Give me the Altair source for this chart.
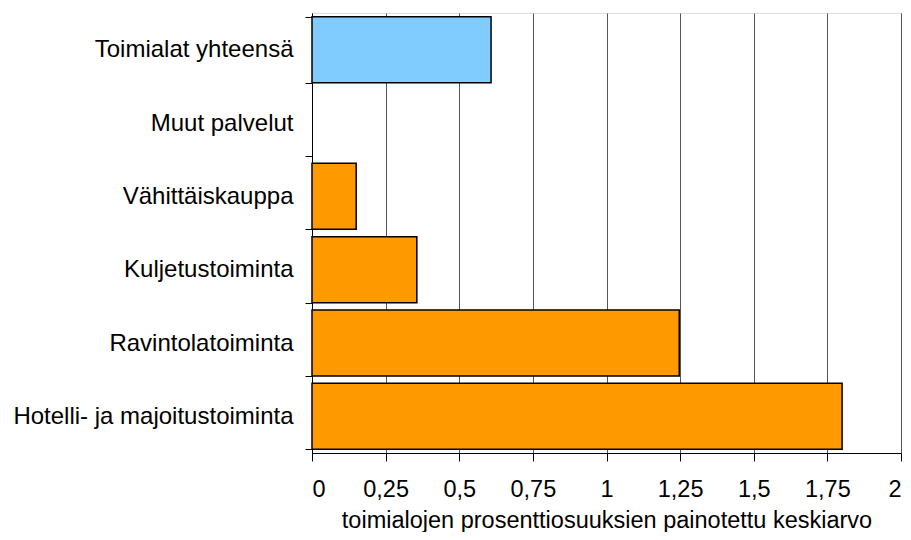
import altair as alt
import pandas as pd

categories = ["Toimialat yhteensä", "Muut palvelut", "Vähittäiskauppa",
              "Kuljetustoiminta", "Ravintolatoiminta", "Hotelli- ja majoitustoiminta"]
values = [0.608, 0.0, 0.15, 0.356, 1.247, 1.80]
groups = ["total", "branch", "branch", "branch", "branch", "branch"]
x_ticks = [0, 0.25, 0.5, 0.75, 1, 1.25, 1.5, 1.75, 2]

df = pd.DataFrame({"toimiala": categories, "arvo": values, "ryhma": groups})
df = df[df["arvo"] > 0]

FONT = "Liberation Sans"

chart = alt.Chart(df).mark_bar(stroke="black", strokeWidth=1.5).encode(
    y=alt.Y("toimiala:N", sort=categories,
            scale=alt.Scale(domain=categories, paddingInner=0.1, paddingOuter=0.05),
            axis=alt.Axis(title=None, tickBand="extent", tickSize=7, labelPadding=12,
                          labelFont=FONT, labelFontSize=24, labelColor="black",
                          domainColor="black", tickColor="black", grid=False,
                          labelLimit=400)),
    x=alt.X("arvo:Q",
            scale=alt.Scale(domain=[0, 2], nice=False),
            axis=alt.Axis(values=x_ticks, title="toimialojen prosenttiosuuksien painotettu keskiarvo",
                          labelExpr="replace(toString(datum.value), '.', ',')",
                          tickSize=8, labelPadding=16, labelFont=FONT, labelFontSize=23.5,
                          labelColor="black", domainColor="black", tickColor="black",
                          grid=True, gridColor="#555555", gridWidth=1,
                          titleFont=FONT, titleFontSize=23.5, titleFontWeight="normal",
                          titleColor="black", titleBaseline="alphabetic", titleY=74)),
    color=alt.Color("ryhma:N",
                    scale=alt.Scale(domain=["total", "branch"], range=["#80CCFF", "#FF9900"]),
                    legend=None),
).properties(
    width=589, height=440,
    autosize=alt.AutoSizeParams(type="none"),
    padding={"left": 304, "top": 5, "right": 2, "bottom": 79},
).configure_view(stroke="#888888", strokeWidth=1.5).configure(background="white")

chart.save("out.html", embed_options={"renderer": "svg", "actions": False})
